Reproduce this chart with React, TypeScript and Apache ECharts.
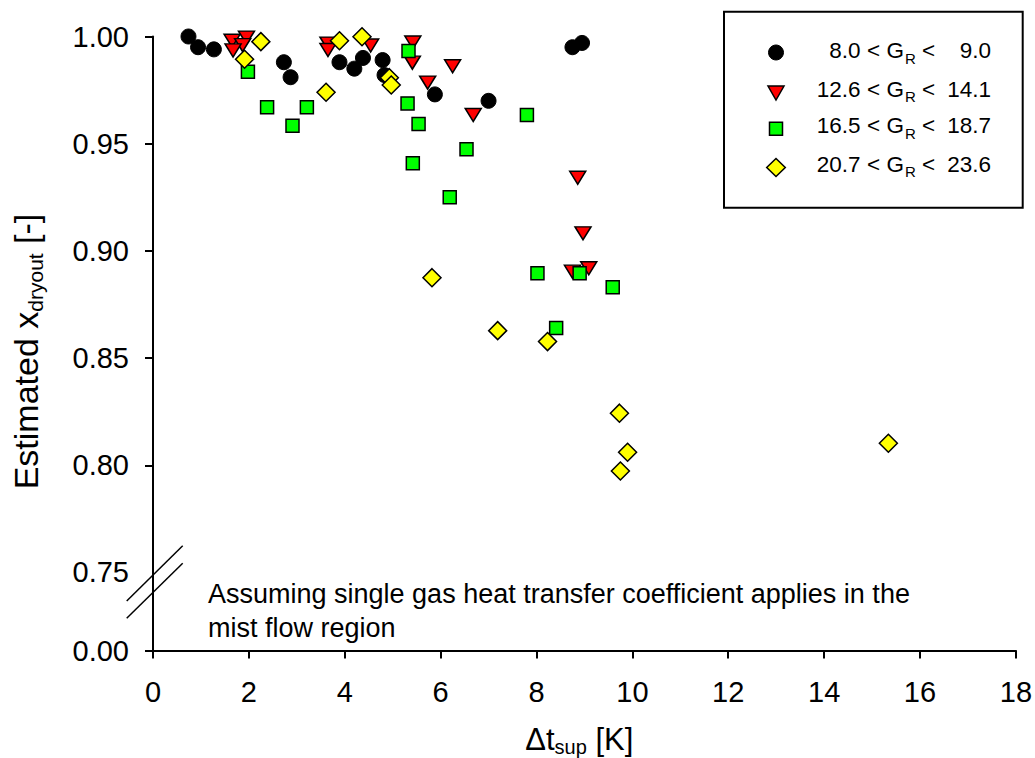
import React, { useEffect, useRef } from "react";
import * as echarts from "echarts";

const FONT = "'Liberation Sans', Arial, Helvetica, sans-serif";

// ---- Data ----
const seriesNames = ["8.0 < GR < 9.0", "12.6 < GR < 14.1", "16.5 < GR < 18.7", "20.7 < GR < 23.6"];
const legendLow = ["8.0", "12.6", "16.5", "20.7"];
const legendHigh = ["9.0", "14.1", "18.7", "23.6"];

const circleX = [0.74, 0.94, 1.27, 2.73, 2.87, 3.89, 4.2, 4.38, 4.79, 4.83, 5.88, 7.0, 8.75, 8.95];
const circleY = [1.0, 0.995, 0.994, 0.988, 0.981, 0.988, 0.985, 0.99, 0.989, 0.982, 0.973, 0.97, 0.995, 0.997];

const triangleX = [1.65, 1.95, 1.87, 1.67, 3.65, 3.65, 4.54, 5.42, 5.41, 6.25, 5.73, 6.68, 8.86, 8.97, 9.09, 8.75];
const triangleY = [0.998, 0.9995, 0.996, 0.9935, 0.9967, 0.9937, 0.9958, 0.9972, 0.9878, 0.9861, 0.9785, 0.9634, 0.9341, 0.9082, 0.8919, 0.8903];

const squareX = [1.98, 2.38, 3.21, 2.91, 5.33, 5.31, 5.54, 6.54, 5.42, 6.19, 7.8, 8.02, 8.9, 9.59, 8.41];
const squareY = [0.9836, 0.967, 0.967, 0.9584, 0.9932, 0.9688, 0.9592, 0.9474, 0.9409, 0.925, 0.9634, 0.8896, 0.8896, 0.883, 0.864];

const diamondX = [2.25, 1.91, 3.61, 3.89, 4.36, 4.93, 4.97, 5.82, 7.19, 8.23, 9.73, 9.9, 9.75, 15.34];
const diamondY = [0.9976, 0.9894, 0.974, 0.998, 0.9999, 0.9808, 0.9774, 0.8875, 0.8628, 0.8577, 0.8243, 0.8061, 0.7973, 0.8103];

// y axis: broken axis, the bottom value stands for "0.00"
const yBreakBottom = 0.7136;
const yTickValues = [0.75, 0.8, 0.85, 0.9, 0.95, 1.0];
const xTicks = [0, 2, 4, 6, 8, 10, 12, 14, 16, 18];

const annotation = "Assuming single gas heat transfer coefficient applies in the\nmist flow region";

function pairs(xs: number[], ys: number[]) {
  return xs.map((x, i) => [x, ys[i]]);
}

function buildOption(): any {
  const legendRowsY = [52.5, 93, 128.8, 167.5];
  const legendTextY = [50.8, 89.2, 125.8, 164.2];
  const lx = 776;
  const legendSymbols: any[] = [
    { type: "circle", shape: { cx: lx, cy: legendRowsY[0], r: 7.5 }, style: { fill: "#000", stroke: "#000", lineWidth: 1 } },
    {
      type: "polygon",
      shape: { points: [[lx - 8, legendRowsY[1] - 7], [lx + 8, legendRowsY[1] - 7], [lx, legendRowsY[1] + 7]] },
      style: { fill: "#FF0000", stroke: "#000", lineWidth: 1.5 },
    },
    { type: "rect", shape: { x: lx - 6.5, y: legendRowsY[2] - 6.5, width: 13, height: 13 }, style: { fill: "#00FF00", stroke: "#000", lineWidth: 1.5 } },
    {
      type: "polygon",
      shape: { points: [[lx, legendRowsY[3] - 9], [lx + 9.3, legendRowsY[3]], [lx, legendRowsY[3] + 9], [lx - 9.3, legendRowsY[3]]] },
      style: { fill: "#FFFF00", stroke: "#000", lineWidth: 1.5 },
    },
  ];
  const legendTexts: any[] = [];
  for (let i = 0; i < 4; i++) {
    legendTexts.push({
      type: "text",
      x: 860.5,
      y: legendTextY[i],
      style: { text: legendLow[i], fontSize: 22.5, fontFamily: FONT, fill: "#000", align: "right", verticalAlign: "middle" },
    });
    legendTexts.push({
      type: "text",
      x: 867,
      y: legendTextY[i],
      style: {
        text: "{m|< G}{s|R}{m| <}",
        align: "left",
        verticalAlign: "middle",
        rich: {
          m: { fontSize: 22.5, fontFamily: FONT, fill: "#000", lineHeight: 22 },
          s: { fontSize: 15, fontFamily: FONT, fill: "#000", lineHeight: 15, padding: [15, 0, 0, 1] },
        },
      },
    });
    legendTexts.push({
      type: "text",
      x: 991,
      y: legendTextY[i],
      style: { text: legendHigh[i], fontSize: 22.5, fontFamily: FONT, fill: "#000", align: "right", verticalAlign: "middle" },
    });
  }

  return {
    animation: false,
    backgroundColor: "#ffffff",
    legend: { show: false, data: seriesNames },
    grid: { left: 153, right: 17, top: 36.5, bottom: 107.5 },
    xAxis: {
      type: "value",
      min: 0,
      max: 18,
      interval: 2,
      axisLine: { show: true, lineStyle: { color: "#000", width: 2 } },
      axisTick: { show: true, length: 8, inside: false, lineStyle: { color: "#000", width: 2 }, customValues: xTicks },
      axisLabel: {
        customValues: xTicks,
        color: "#000",
        fontSize: 29,
        lineHeight: 29,
        fontFamily: FONT,
        margin: 27,
      },
      splitLine: { show: false },
    },
    yAxis: {
      type: "value",
      min: yBreakBottom,
      max: 1.0,
      axisLine: { show: true, onZero: false, lineStyle: { color: "#000", width: 2 } },
      axisTick: {
        show: true,
        length: 8,
        inside: false,
        lineStyle: { color: "#000", width: 2 },
        customValues: [yBreakBottom, 0.8, 0.85, 0.9, 0.95, 1.0],
      },
      axisLabel: {
        customValues: [yBreakBottom, ...yTickValues],
        formatter: (v: number) => (v < 0.74 ? "0.00" : v.toFixed(2)),
        color: "#000",
        fontSize: 29,
        lineHeight: 29,
        fontFamily: FONT,
        margin: 24,
      },
      splitLine: { show: false },
    },
    series: [
      {
        type: "scatter",
        name: seriesNames[0],
        symbol: "circle",
        symbolSize: 15,
        itemStyle: { color: "#000000", borderColor: "#000", borderWidth: 1, opacity: 1 },
        data: pairs(circleX, circleY),
        silent: true,
      },
      {
        type: "scatter",
        name: seriesNames[1],
        symbol: "triangle",
        symbolSize: [16, 13],
        symbolRotate: 180,
        itemStyle: { color: "#FF0000", borderColor: "#000", borderWidth: 1.5, opacity: 1 },
        data: pairs(triangleX, triangleY),
        silent: true,
      },
      {
        type: "scatter",
        name: seriesNames[2],
        symbol: "rect",
        symbolSize: 13,
        itemStyle: { color: "#00FF00", borderColor: "#000", borderWidth: 1.5, opacity: 1 },
        data: pairs(squareX, squareY),
        silent: true,
      },
      {
        type: "scatter",
        name: seriesNames[3],
        symbol: "diamond",
        symbolSize: [18, 18],
        itemStyle: { color: "#FFFF00", borderColor: "#000", borderWidth: 1.5, opacity: 1 },
        data: pairs(diamondX, diamondY),
        silent: true,
      },
    ],
    graphic: [
      // axis break marks
      { type: "line", shape: { x1: 126.7, y1: 601, x2: 182.7, y2: 545.7 }, style: { stroke: "#000", lineWidth: 1.5 } },
      { type: "line", shape: { x1: 126.7, y1: 618.3, x2: 182.7, y2: 563.3 }, style: { stroke: "#000", lineWidth: 1.5 } },
      // y axis title
      {
        type: "text",
        x: 25.8,
        y: 351.5,
        rotation: Math.PI / 2,
        style: {
          text: "{a|Estimated x}{s|dryout}{a| [-]}",
          align: "center",
          verticalAlign: "middle",
          rich: {
            a: { fontSize: 34, fontFamily: FONT, fill: "#000", lineHeight: 34 },
            s: { fontSize: 21, fontFamily: FONT, fill: "#000", lineHeight: 21, padding: [20, 0, 0, 0] },
          },
        },
      },
      // x axis title
      {
        type: "text",
        x: 579.3,
        y: 739.5,
        style: {
          text: "{a|Δt}{s|sup}{a| [K]}",
          align: "center",
          verticalAlign: "middle",
          rich: {
            a: { fontSize: 31, fontFamily: FONT, fill: "#000", lineHeight: 31 },
            s: { fontSize: 20, fontFamily: FONT, fill: "#000", lineHeight: 20, padding: [14, 0, 0, 0] },
          },
        },
      },
      // annotation
      {
        type: "text",
        x: 208,
        y: 577.6,
        style: {
          text: annotation,
          fontSize: 27,
          lineHeight: 33.4,
          fontFamily: FONT,
          fill: "#000",
          align: "left",
          verticalAlign: "top",
        },
      },
      // legend box
      {
        type: "rect",
        shape: { x: 724, y: 11.7, width: 298.7, height: 196 },
        style: { fill: "#fff", stroke: "#000", lineWidth: 2 },
      },
      ...legendSymbols,
      ...legendTexts,
    ],
  };
}

export default function App() {
  const ref = useRef<HTMLDivElement>(null);
  useEffect(() => {
    if (!ref.current) return;
    const chart = echarts.init(ref.current, null, { renderer: "svg" });
    chart.setOption(buildOption());
    return () => {
      chart.dispose();
    };
  }, []);
  return (
    <div
      ref={ref}
      style={{ position: "absolute", left: 0, top: 0, width: 1035, height: 758, background: "#ffffff" }}
    />
  );
}
